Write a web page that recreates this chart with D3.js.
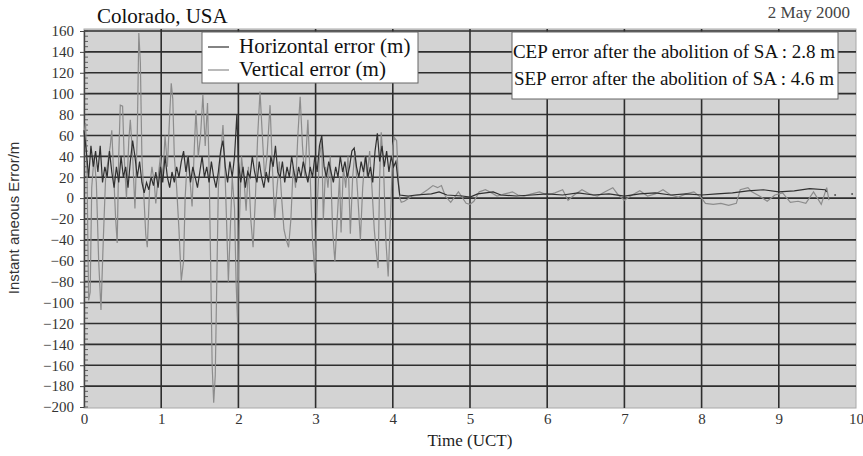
<!DOCTYPE html>
<html>
<head>
<meta charset="utf-8">
<script src="https://cdn.jsdelivr.net/npm/d3@7/dist/d3.min.js"></script>
<style>
  body { margin: 0; background: #fff; }
  svg { display: block; }
</style>
</head>
<body>
<div id="chart"></div>
<script>
// vertical error (m), [time UCT, value]
const verticalErr = [
  [0.00, 60], [0.02, 72], [0.04, 20], [0.06, -98], [0.08, -90], [0.10, 10], [0.13, 40], [0.16, 15],
  [0.19, -60], [0.22, -107], [0.25, -40], [0.28, 20], [0.31, 35], [0.34, 50], [0.36, 65], [0.38, 30],
  [0.41, -20], [0.43, -43], [0.45, 40], [0.47, 89], [0.50, 88], [0.52, 40], [0.55, 0], [0.58, 55],
  [0.60, 75], [0.63, 40], [0.66, -10], [0.69, 60], [0.71, 158], [0.73, 130], [0.75, 40], [0.78, -5],
  [0.80, -35], [0.82, -47], [0.85, 10], [0.88, 30], [0.91, 15], [0.93, -5], [0.96, 20], [0.99, 40],
  [1.02, 20], [1.05, 60], [1.08, 30], [1.11, 80], [1.13, 110], [1.15, 95], [1.17, 40], [1.20, 10],
  [1.23, -30], [1.26, -79], [1.29, -60], [1.31, 0], [1.34, 40], [1.37, 20], [1.40, -8], [1.43, 50],
  [1.45, 84], [1.48, 40], [1.51, 60], [1.54, 99], [1.57, 50], [1.60, 91], [1.62, 30], [1.64, -60],
  [1.66, -160], [1.68, -196], [1.70, -170], [1.72, -80], [1.74, 10], [1.77, 40], [1.80, 70], [1.82, 40],
  [1.85, -30], [1.87, -80], [1.89, -40], [1.92, 20], [1.95, -10], [1.97, -80], [1.99, -120], [2.01, -30],
  [2.04, 40], [2.07, 20], [2.10, -12], [2.13, 30], [2.16, -20], [2.19, -47], [2.22, 0], [2.25, 60],
  [2.28, 102], [2.31, 60], [2.34, 20], [2.37, 40], [2.41, 89], [2.44, 30], [2.47, -20], [2.50, 10],
  [2.53, 35], [2.56, 0], [2.59, -30], [2.62, -40], [2.65, -47], [2.68, -20], [2.71, 30], [2.74, 10],
  [2.77, 60], [2.80, 97], [2.83, 50], [2.86, 20], [2.90, 75], [2.93, 20], [2.96, -40], [2.99, -72],
  [3.02, -10], [3.05, 40], [3.08, 55], [3.10, -21], [3.13, 30], [3.16, 10], [3.19, 40], [3.22, -30],
  [3.25, -61], [3.28, -20], [3.31, 20], [3.33, -33], [3.36, 30], [3.39, 10], [3.42, 40], [3.45, -34],
  [3.48, 20], [3.51, 45], [3.54, 10], [3.58, -40], [3.61, 10], [3.64, 40], [3.67, 20], [3.70, 45],
  [3.73, 10], [3.76, -30], [3.79, -55], [3.81, -67], [3.83, 20], [3.85, 63], [3.88, 30], [3.91, -40],
  [3.94, -75], [3.97, -20], [4.00, 50], [4.02, 58], [4.05, 55], [4.07, 20], [4.09, 0], [4.11, -4],
  [4.15, -3], [4.25, 2], [4.35, 3], [4.45, 8], [4.52, 12], [4.58, 10], [4.63, 12], [4.68, 2],
  [4.75, -4], [4.85, 6], [4.95, -5], [5.00, -6], [5.05, -3], [5.12, 6], [5.20, 8], [5.28, 5],
  [5.35, 2], [5.45, 4], [5.55, 6], [5.62, 3], [5.70, 2], [5.80, 4], [5.90, 6], [6.00, 3],
  [6.10, 5], [6.20, 8], [6.27, -2], [6.35, 3], [6.45, 8], [6.55, 4], [6.65, 2], [6.75, 6],
  [6.85, 10], [6.92, 3], [7.00, -2], [7.10, 3], [7.20, 7], [7.30, 2], [7.40, 4], [7.50, 8],
  [7.60, 3], [7.70, 1], [7.80, 4], [7.90, 6], [8.00, 0], [8.05, -5], [8.15, -6], [8.25, -5],
  [8.35, -7], [8.45, -5], [8.50, 8], [8.60, 10], [8.65, 6], [8.75, 2], [8.85, -3], [8.95, 3],
  [9.05, 5], [9.15, -4], [9.25, -3], [9.35, -5], [9.45, 6], [9.55, -6], [9.62, 10], [9.65, -2]
];

// horizontal error (m), [time UCT, value]
const horizontalErr = [
  [0.00, 65], [0.03, 45], [0.06, 20], [0.09, 50], [0.12, 30], [0.15, 45], [0.18, 25], [0.21, 50],
  [0.24, 15], [0.27, 30], [0.30, 20], [0.33, 45], [0.36, 25], [0.39, 10], [0.42, 30], [0.45, 15],
  [0.48, 40], [0.51, 20], [0.54, 30], [0.57, 10], [0.60, 35], [0.63, 55], [0.66, 40], [0.69, 20],
  [0.72, 35], [0.75, 15], [0.78, 5], [0.81, 15], [0.84, 8], [0.87, 20], [0.90, 12], [0.93, 25],
  [0.96, 10], [0.99, 30], [1.02, 15], [1.05, 40], [1.08, 20], [1.11, 10], [1.14, 25], [1.17, 15],
  [1.20, 30], [1.23, 20], [1.26, 35], [1.29, 45], [1.32, 25], [1.35, 40], [1.38, 15], [1.41, 30],
  [1.44, 20], [1.47, 10], [1.50, 25], [1.53, 40], [1.56, 20], [1.59, 30], [1.62, 15], [1.65, 35],
  [1.68, 20], [1.71, 10], [1.74, 25], [1.77, 45], [1.80, 55], [1.83, 30], [1.86, 15], [1.89, 35],
  [1.92, 20], [1.95, 40], [1.98, 80], [2.00, 35], [2.03, 15], [2.06, 30], [2.09, 10], [2.12, 25],
  [2.15, 20], [2.18, 40], [2.21, 25], [2.24, 15], [2.27, 35], [2.30, 20], [2.33, 10], [2.36, 25],
  [2.39, 15], [2.42, 40], [2.45, 30], [2.48, 50], [2.51, 25], [2.54, 20], [2.57, 35], [2.60, 15],
  [2.63, 30], [2.66, 20], [2.69, 40], [2.72, 25], [2.75, 15], [2.78, 30], [2.81, 20], [2.84, 35],
  [2.87, 25], [2.90, 15], [2.93, 30], [2.96, 20], [2.99, 40], [3.02, 25], [3.05, 50], [3.08, 60],
  [3.11, 30], [3.14, 20], [3.17, 35], [3.20, 25], [3.23, 15], [3.26, 30], [3.29, 20], [3.32, 40],
  [3.35, 25], [3.38, 35], [3.41, 20], [3.44, 30], [3.47, 45], [3.50, 48], [3.53, 30], [3.56, 20],
  [3.59, 35], [3.62, 25], [3.65, 40], [3.68, 20], [3.71, 30], [3.74, 15], [3.77, 45], [3.80, 62],
  [3.83, 35], [3.86, 50], [3.89, 30], [3.92, 45], [3.95, 25], [3.98, 40], [4.01, 30], [4.04, 35],
  [4.07, 15], [4.09, 3], [4.20, 2], [4.30, 3], [4.50, 4], [4.60, 6], [4.70, 3], [4.90, 2],
  [5.00, 1], [5.10, 4], [5.30, 6], [5.40, 3], [5.60, 2], [5.80, 3], [6.00, 4], [6.20, 3],
  [6.40, 5], [6.60, 3], [6.80, 4], [7.00, 2], [7.20, 4], [7.40, 5], [7.60, 3], [7.80, 4],
  [8.00, 3], [8.20, 4], [8.40, 5], [8.60, 7], [8.80, 8], [9.00, 6], [9.20, 7], [9.40, 9],
  [9.60, 8], [9.62, 6]
];

// isolated samples after the end of the trace
const strayPoints = [[9.73, 3], [9.95, 4]];

const xTicks = [0, 1, 2, 3, 4, 5, 6, 7, 8, 9, 10];
const yTicks = [-200, -180, -160, -140, -120, -100, -80, -60, -40, -20, 0, 20, 40, 60, 80, 100, 120, 140, 160];
const yMinor = d3.range(-200, 161, 5);

const W = 863, H = 456;
const serif = "Liberation Serif";

const svg = d3.select("#chart").append("svg")
    .attr("width", W)
    .attr("height", H);

const x = d3.scaleLinear().domain([0, 10]).range([84, 856]);
const y = d3.scaleLinear().domain([-200, 160]).range([407, 31]);
const plotTop = 29, plotBottom = 408;

// plot background
svg.append("rect")
    .attr("x", x(0)).attr("y", plotTop)
    .attr("width", x(10) - x(0)).attr("height", plotBottom - plotTop)
    .attr("fill", "#d3d3d3")
    .attr("stroke", "#a8a8a8");

// grid
svg.append("g").selectAll("line")
    .data(yTicks.slice(1))
    .join("line")
    .attr("x1", x(0)).attr("x2", x(10))
    .attr("y1", d => y(d)).attr("y2", d => y(d))
    .attr("stroke", "#2e2e2e").attr("stroke-width", 1.6);

svg.append("g").selectAll("line")
    .data(xTicks.slice(1, -1))
    .join("line")
    .attr("x1", d => x(d)).attr("x2", d => x(d))
    .attr("y1", plotTop).attr("y2", plotBottom)
    .attr("stroke", "#2e2e2e").attr("stroke-width", 1.6);

// minor ticks on the inside of the y axis
svg.append("g").selectAll("line")
    .data(yMinor)
    .join("line")
    .attr("x1", x(0)).attr("x2", x(0) + 4)
    .attr("y1", d => y(d)).attr("y2", d => y(d))
    .attr("stroke", "#444").attr("stroke-width", 0.8);

// axes
const yAxis = d3.axisLeft(y).tickValues(yTicks).tickSize(4).tickSizeOuter(0).tickPadding(6)
    .tickFormat(d => d < 0 ? "\u2212" + Math.abs(d) : d);
svg.append("g")
    .attr("transform", "translate(" + x(0) + ",0)")
    .call(yAxis)
    .call(g => g.selectAll(".tick text")
        .attr("font-family", serif).attr("font-size", 15).attr("fill", "#333"))
    .call(g => g.select(".domain").attr("stroke", "#444").attr("stroke-width", 1.4))
    .call(g => g.selectAll(".tick line").attr("stroke", "#444"));

const xAxis = d3.axisBottom(x).tickValues(xTicks).tickSize(0).tickPadding(5);
svg.append("g")
    .attr("transform", "translate(0," + plotBottom + ")")
    .call(xAxis)
    .call(g => g.selectAll(".tick text")
        .attr("font-family", serif).attr("font-size", 15).attr("fill", "#333"))
    .call(g => g.select(".domain").remove());

// series
const line = d3.line()
    .x(d => x(d[0]))
    .y(d => y(d[1]));

svg.append("path")
    .attr("d", line(verticalErr))
    .attr("fill", "none")
    .attr("stroke", "#8c8c8c")
    .attr("stroke-width", 1.2);

svg.append("path")
    .attr("d", line(horizontalErr))
    .attr("fill", "none")
    .attr("stroke", "#303030")
    .attr("stroke-width", 1.2);

svg.append("g").selectAll("circle")
    .data(strayPoints)
    .join("circle")
    .attr("cx", d => x(d[0]))
    .attr("cy", d => y(d[1]))
    .attr("r", 1)
    .attr("fill", "#555");

// legend
const legend = svg.append("g");
legend.append("rect")
    .attr("x", 202).attr("y", 32).attr("width", 216).attr("height", 51)
    .attr("fill", "#fff").attr("stroke", "#666");
[["Horizontal error (m)", "#303030", 47], ["Vertical error (m)", "#8c8c8c", 70]].forEach(([label, color, ly]) => {
  legend.append("line")
      .attr("x1", 208).attr("x2", 229).attr("y1", ly).attr("y2", ly)
      .attr("stroke", color).attr("stroke-width", 1.2);
  legend.append("text")
      .attr("x", 239).attr("y", ly + 6)
      .attr("font-family", serif).attr("font-size", 21)
      .attr("fill", "#111")
      .text(label);
});

// annotation box
svg.append("rect")
    .attr("x", 512).attr("y", 32).attr("width", 326).attr("height", 67)
    .attr("fill", "#fff").attr("stroke", "#666");
svg.append("text")
    .attr("x", 674).attr("y", 58)
    .attr("text-anchor", "middle")
    .attr("font-family", serif).attr("font-size", 19).attr("fill", "#111")
    .text("CEP error after the abolition of SA : 2.8 m");
svg.append("text")
    .attr("x", 674).attr("y", 85)
    .attr("text-anchor", "middle")
    .attr("font-family", serif).attr("font-size", 19).attr("fill", "#111")
    .text("SEP error after the abolition of SA : 4.6 m");

// titles
svg.append("text")
    .attr("x", 97).attr("y", 23)
    .attr("font-family", serif).attr("font-size", 21).attr("fill", "#111")
    .text("Colorado, USA");

svg.append("text")
    .attr("x", 850).attr("y", 18)
    .attr("text-anchor", "end")
    .attr("font-family", serif).attr("font-size", 17).attr("fill", "#444")
    .text("2 May 2000");

svg.append("text")
    .attr("x", 470).attr("y", 446)
    .attr("text-anchor", "middle")
    .attr("font-family", serif).attr("font-size", 17).attr("fill", "#222")
    .text("Time (UCT)");

svg.append("text")
    .attr("transform", "translate(19,218) rotate(-90)")
    .attr("text-anchor", "middle")
    .attr("font-family", "Liberation Sans").attr("font-size", 15).attr("fill", "#333")
    .text("Instant aneous Error/m");
</script>
</body>
</html>
